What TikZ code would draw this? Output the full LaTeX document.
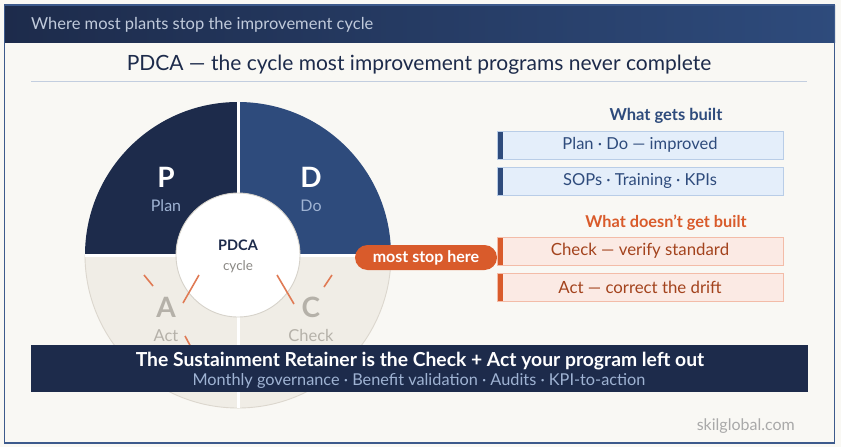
\documentclass[tikz,border=0pt]{standalone}
\usepackage{fontspec}
\setmainfont{Lato}
\definecolor{bgc}{HTML}{F9F8F4}
\definecolor{navy}{HTML}{1D2B4B}
\definecolor{bluec}{HTML}{2E4B7C}
\definecolor{framec}{HTML}{3D5A8C}
\definecolor{bantext}{HTML}{C0CADB}
\definecolor{rulec}{HTML}{C3CEDF}
\definecolor{soft}{HTML}{9FB3D3}
\definecolor{beige}{HTML}{F0EDE6}
\definecolor{beigeb}{HTML}{DCD7CE}
\definecolor{grayl}{HTML}{B5B1A9}
\definecolor{innerb}{HTML}{D6D2CA}
\definecolor{orangec}{HTML}{D95B2B}
\definecolor{strokec}{HTML}{E07B55}
\definecolor{boxbfill}{HTML}{E4EEFA}
\definecolor{boxbdraw}{HTML}{B9CDE7}
\definecolor{boxofill}{HTML}{FBEAE4}
\definecolor{boxodraw}{HTML}{F3BCA8}
\definecolor{otext}{HTML}{A3431D}
\definecolor{footc}{HTML}{A9A9A9}
\definecolor{cyclec}{HTML}{8A8884}
\begin{document}
\begin{tikzpicture}[x=1pt,y=-1pt,
  fsz/.style={font=\fontsize{#1}{#1}\selectfont},
  bfsz/.style={font=\fontsize{#1}{#1}\selectfont\bfseries},
  txt/.style={inner sep=0pt, anchor=base},
  bluebox/.style={draw=boxbdraw, fill=boxbfill, line width=0.9, minimum width=286, minimum height=28, inner sep=0pt, text=bluec, fsz=16.5,
    path picture={\fill[bluec] (path picture bounding box.north west) rectangle ([xshift=6pt]path picture bounding box.south west);}},
  orangebox/.style={draw=boxodraw, fill=boxofill, line width=0.9, minimum width=286, minimum height=28, inner sep=0pt, text=otext, fsz=16.8,
    path picture={\fill[orangec] (path picture bounding box.north west) rectangle ([xshift=6pt]path picture bounding box.south west);}},
  xstroke/.style={strokec, line width=1.6}
]
\useasboundingbox (0,0) rectangle (841,447);
\fill[bgc] (0,0) rectangle (841,447);
% top banner and frame
\shade[left color=navy, right color=bluec] (4,5) rectangle (835,42);
\draw[framec, line width=1.2] (4.6,5) rectangle (834.4,443);
\node[txt, anchor=base west, text=bantext, fsz=16.5] (bantitle) at (31,29.3) {Where most plants stop the improvement cycle};
\node[txt, text=navy, fsz=21] (title) at (419,70) {PDCA — the cycle most improvement programs never complete};
\draw[rulec, line width=1] (31,81.5) -- (807,81.5);
% quadrants
\coordinate (O) at (238,255);
\fill[navy] (O) -- +(-153,0) arc[start angle=180,end angle=270,radius=153] -- cycle;
\fill[bluec] (O) -- +(0,-153) arc[start angle=270,end angle=360,radius=153] -- cycle;
\filldraw[fill=beige, draw=beigeb, line width=0.9] (O) -- +(153,0) arc[start angle=0,end angle=90,radius=153] -- cycle;
\filldraw[fill=beige, draw=beigeb, line width=0.9] (O) -- +(0,153) arc[start angle=90,end angle=180,radius=153] -- cycle;
\draw[white, line width=3] (238,102) -- (238,408);
\draw[white, line width=3] (85,255) -- (391,255);
\node[circle, fill=white, draw=innerb, line width=0.9, minimum size=124, inner sep=0pt] (hub) at (O) {};
% orange marks
\draw[xstroke] (144,275) -- (153,286);
\draw[xstroke] (199,275) -- (183,303);
\draw[xstroke] (185,336) -- (192,349);
\draw[xstroke] (277,275) -- (294,304);
\draw[xstroke] (332,275) -- (324,287);
% labels
\node[txt, text=white, bfsz=28] (P) at (166,187) {P};
\node[txt, text=soft, fsz=16] (plan) at (166,211.5) {Plan};
\node[txt, text=white, bfsz=28] (D) at (311,187) {D};
\node[txt, text=soft, fsz=16] (do) at (311,211.5) {Do};
\node[txt, text=grayl, bfsz=28] (A) at (166,317) {A};
\node[txt, text=grayl, fsz=16.5] (act) at (166,341.7) {Act};
\node[txt, text=grayl, bfsz=28] (C) at (311,317) {C};
\node[txt, text=grayl, fsz=16.5] (check) at (311,341.7) {Check};
\node[txt, text=navy, bfsz=14.5] (pdca) at (238,250) {PDCA};
\node[txt, text=cyclec, fsz=13.5] (cyc) at (238,270) {cycle};
% pill
\node[fill=orangec, rounded corners=12.5pt, minimum width=142, minimum height=25, inner sep=0pt, text=white, bfsz=16] (pill) at (426,257.5) {most stop here};
% right column
\node[txt, text=bluec, bfsz=16.5] (gets) at (666,120) {What gets built};
\node[bluebox] (b1) at (640,145) {Plan · Do — improved};
\node[bluebox] (b2) at (640,181) {SOPs · Training · KPIs};
\node[txt, text=orangec, bfsz=16.3] (doesnt) at (666,227) {What doesn’t get built};
\node[orangebox] (b3) at (640,251) {Check — verify standard};
\node[orangebox] (b4) at (640,287.5) {Act — correct the drift};
% bottom banner
\node[fill=navy, minimum width=777, minimum height=47, inner sep=0pt] (banner) at (419.5,368.5) {};
\node[txt, text=white, bfsz=19.3] (ret) at (420,366.7) {The Sustainment Retainer is the Check + Act your program left out};
\node[txt, text=soft, fsz=16.3] (sub) at (419,385) {Monthly governance · Benefit validation · Audits · KPI-to-action};
% footer
\node[txt, anchor=base east, text=footc, fsz=16] (foot) at (795,430.7) {skilglobal.com};
\end{tikzpicture}
\end{document}
